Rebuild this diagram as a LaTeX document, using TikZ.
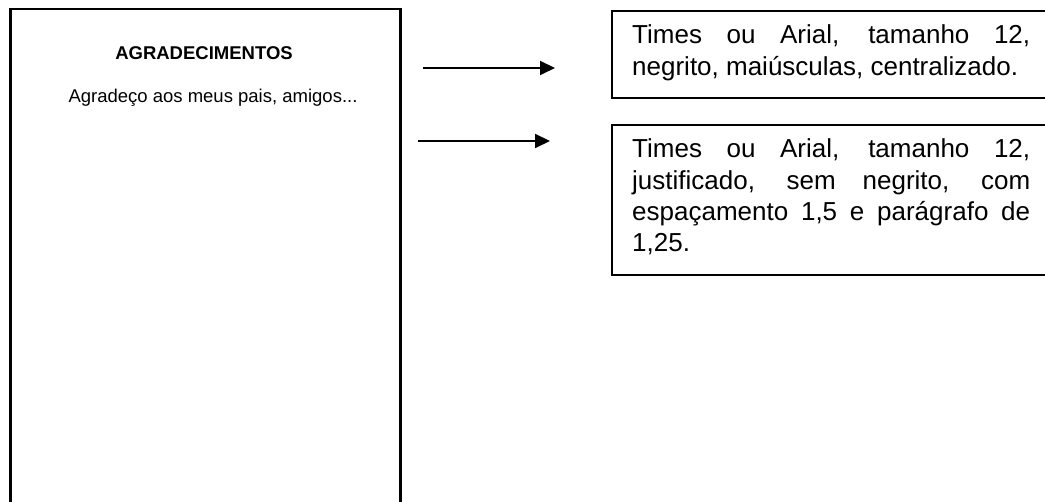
\documentclass[tikz,border=0pt]{standalone}
\usepackage{fontspec}
\setmainfont{Liberation Sans}
\usetikzlibrary{arrows.meta}
\tikzset{
  pagebox/.style={draw=black, line width=2.5pt, anchor=north west, inner sep=0pt},
  notebox/.style={draw=black, line width=2pt, anchor=north west, inner sep=0pt},
  conn/.style={line width=2pt, -{Triangle[length=15pt,width=14pt]}},
  pagetext/.style={inner sep=0pt, anchor=base, font=\fontsize{18.5}{22}\selectfont},
  notetext/.style={inner sep=0pt, anchor=base west, font=\fontsize{26}{31.3}\selectfont}
}
\newcommand{\jline}[1]{\makebox[398pt][s]{#1}}
\begin{document}
\begin{tikzpicture}[x=1pt,y=-1pt]
\useasboundingbox (0,0) rectangle (1045,502);
% page mock-up
\node[pagebox, minimum width=390pt, minimum height=520pt] (page) at (9,8) {};
\node[pagetext, font=\fontsize{18.5}{22}\selectfont\bfseries] (title) at (204,60) {AGRADECIMENTOS};
\node[pagetext] (body) at (213,103) {Agradeço aos meus pais, amigos...};
% note boxes
\node[notebox, minimum width=441pt, minimum height=87pt] (box1) at (611,10) {};
\node[notetext] (t1) at (632,44) {\parbox[t]{398pt}{\jline{Times ou Arial, tamanho 12,}\\negrito, maiúsculas, centralizado.}};
\node[notebox, minimum width=441pt, minimum height=150pt] (box2) at (611,124) {};
\node[notetext] (t2) at (632,158) {\parbox[t]{398pt}{\jline{Times ou Arial, tamanho 12,}\\\jline{justificado, sem negrito, com}\\\jline{espaçamento 1,5 e parágrafo de}\\1,25.}};
% arrows
\coordinate (a1s) at (423,68);
\coordinate (a1e) at (555,68);
\coordinate (a2s) at (418,141);
\coordinate (a2e) at (550,141);
\draw[conn] (a1s) -- (a1e);
\draw[conn] (a2s) -- (a2e);
\end{tikzpicture}
\end{document}
